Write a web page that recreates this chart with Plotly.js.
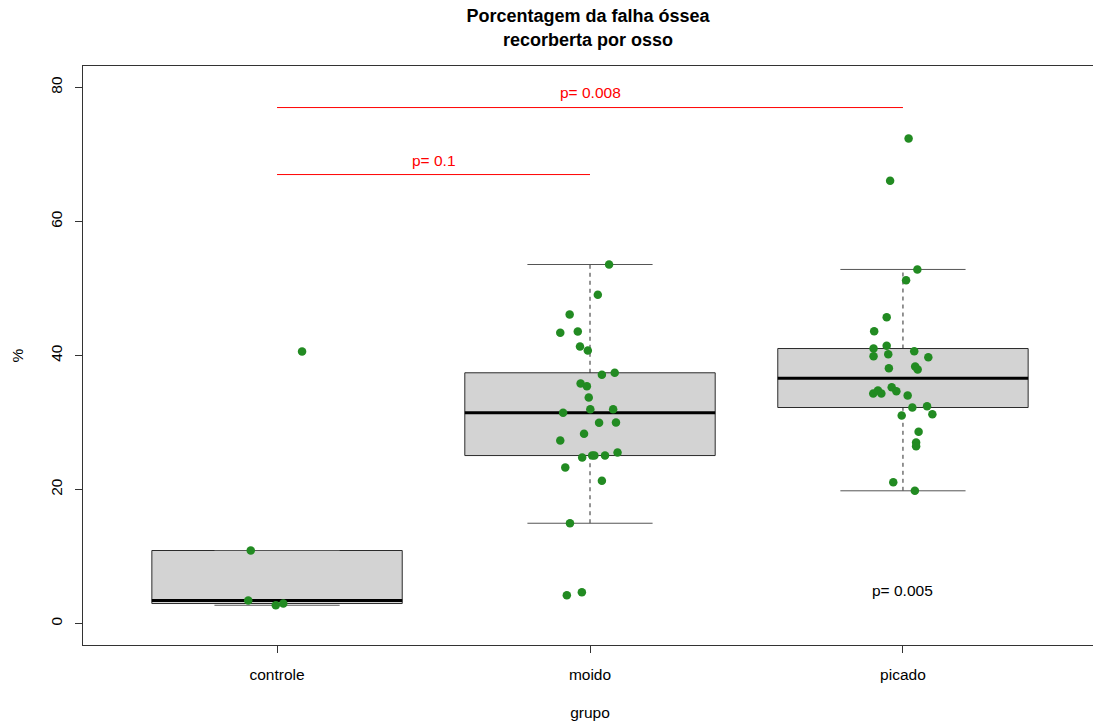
<!DOCTYPE html>
<html>
<head>
<meta charset="utf-8">
<script src="https://cdn.plot.ly/plotly-3.0.1.min.js"></script>
<style>
  html, body { margin: 0; padding: 0; background: #fff; overflow: hidden; }
  #chart { width: 1097px; height: 722px; }
</style>
</head>
<body>
<div id="chart"></div>
<script>
// Groups and measured percentages of bone defect covered by bone
const groups = ['controle', 'moido', 'picado'];

const controleVals = [10.90, 3.43, 2.73, 2.99, 40.60];
const moidoVals = [53.58, 49.06, 46.12, 43.39, 43.58, 41.34, 40.75, 37.12, 37.42, 35.82,
                   35.42, 33.73, 31.99, 31.99, 31.45, 29.96, 30.00, 28.31, 27.31, 24.78,
                   25.07, 25.07, 25.07, 25.52, 23.28, 21.31, 14.97, 4.22, 4.67];
const picadoVals = [72.39, 66.07, 52.84, 51.24, 45.72, 43.63, 41.04, 41.45, 40.64, 39.90,
                    40.19, 39.75, 38.10, 38.36, 37.91, 34.33, 34.78, 34.33, 35.27, 34.67,
                    34.03, 32.24, 32.43, 31.24, 31.04, 28.61, 27.01, 26.46, 21.09, 19.81];

// Horizontal jitter of each point (stripchart method = "jitter")
const controleJit = [-0.084, -0.092, -0.004, 0.020, 0.080];
const moidoJit = [0.061, 0.025, -0.065, -0.095, -0.039, -0.032, -0.007, 0.038, 0.079, -0.030,
                  -0.010, -0.004, 0.001, 0.074, -0.086, 0.029, 0.083, -0.019, -0.095, -0.025,
                  0.007, 0.014, 0.048, 0.088, -0.079, 0.038, -0.064, -0.074, -0.026];
const picadoJit = [0.018, -0.041, 0.046, 0.010, -0.052, -0.092, -0.094, -0.052, 0.036, -0.094,
                   -0.047, 0.081, -0.045, 0.039, 0.047, -0.095, -0.080, -0.069, -0.036, -0.021,
                   0.015, 0.030, 0.077, 0.094, -0.004, 0.050, 0.042, 0.042, -0.031, 0.038];

// Pairwise comparisons: [from group, to group, bar height, label, label height]
const compFrom = [1, 1];
const compTo = [2, 3];
const compY = [67, 77];
const compLabels = ['p= 0.1', 'p= 0.008'];
const compLabelY = [69.1, 79.2];

// Overall test label
const overallLabel = 'p= 0.005';
const overallX = 3;
const overallY = 5;

const FONT = 'Liberation Sans, Arial, Helvetica, sans-serif';

// Tukey five-number summary, as in R's fivenum()
function fivenum(v) {
  const s = v.slice().sort((a, b) => a - b);
  const n = s.length;
  const n4 = Math.floor((n + 3) / 2) / 2;
  const d = [1, n4, (n + 1) / 2, n + 1 - n4, n];
  return d.map(p => 0.5 * (s[Math.floor(p) - 1] + s[Math.ceil(p) - 1]));
}

// boxplot.stats(): hinges, median and whiskers at 1.5 IQR
function boxStats(v) {
  const f = fivenum(v);
  const iqr = f[3] - f[1];
  const inside = v.filter(x => x >= f[1] - 1.5 * iqr && x <= f[3] + 1.5 * iqr);
  return {
    lo: Math.min(...inside), q1: f[1], med: f[2], q3: f[3], hi: Math.max(...inside)
  };
}

const allVals = [controleVals, moidoVals, picadoVals];
const allJit = [controleJit, moidoJit, picadoJit];

const shapes = [];
allVals.forEach((vals, i) => {
  const c = i + 1;
  const st = boxStats(vals);
  const dark = '#2b2b2b';
  // box
  shapes.push({type: 'rect', xref: 'x', yref: 'y', layer: 'below',
    x0: c - 0.4, x1: c + 0.4, y0: st.q1, y1: st.q3,
    fillcolor: '#D3D3D3', line: {color: dark, width: 1}});
  // median
  shapes.push({type: 'line', xref: 'x', yref: 'y', layer: 'below',
    x0: c - 0.4, x1: c + 0.4, y0: st.med, y1: st.med,
    line: {color: '#000', width: 3}});
  // whiskers
  shapes.push({type: 'line', xref: 'x', yref: 'y', layer: 'below',
    x0: c, x1: c, y0: st.q3, y1: st.hi,
    line: {color: dark, width: 1, dash: '4px,4px'}});
  shapes.push({type: 'line', xref: 'x', yref: 'y', layer: 'below',
    x0: c, x1: c, y0: st.lo, y1: st.q1,
    line: {color: dark, width: 1, dash: '4px,4px'}});
  // staples
  [st.lo, st.hi].forEach(yv => {
    shapes.push({type: 'line', xref: 'x', yref: 'y', layer: 'below',
      x0: c - 0.2, x1: c + 0.2, y0: yv, y1: yv,
      line: {color: '#555', width: 1}});
  });
});

// comparison bars
compFrom.forEach((a, k) => {
  shapes.push({type: 'line', xref: 'x', yref: 'y', layer: 'above',
    x0: a, x1: compTo[k], y0: compY[k], y1: compY[k],
    line: {color: '#FF0000', width: 1}});
});

const annotations = compLabels.map((t, k) => ({
  x: (compFrom[k] + compTo[k]) / 2, y: compLabelY[k], xref: 'x', yref: 'y',
  text: t, showarrow: false, xanchor: 'center', yanchor: 'middle',
  font: {family: FONT, size: 15.5, color: '#FF0000'}
}));
annotations.push({
  x: overallX, y: overallY, xref: 'x', yref: 'y', text: overallLabel,
  showarrow: false, xanchor: 'center', yanchor: 'middle',
  font: {family: FONT, size: 15.5, color: '#000'}
});

const traces = allVals.map((vals, i) => ({
  type: 'scatter', mode: 'markers',
  x: vals.map((v, j) => i + 1 + allJit[i][j]),
  y: vals,
  marker: {color: '#228B22', size: 8.5, line: {width: 0}},
  hoverinfo: 'y', showlegend: false
}));

const axisCommon = {
  showgrid: false, zeroline: false,
  showline: true, mirror: true, linecolor: '#333', linewidth: 1,
  ticks: 'outside', ticklen: 7, tickwidth: 1, tickcolor: '#333',
  tickfont: {family: FONT, size: 15.5, color: '#000'}
};

const layout = {
  width: 1097, height: 722,
  margin: {l: 83, r: 0, t: 66, b: 77},
  paper_bgcolor: '#fff', plot_bgcolor: '#fff',
  title: {
    text: 'Porcentagem da falha óssea<br>recorberta por osso',
    font: {family: FONT, size: 18, color: '#000', weight: 'bold'},
    xref: 'container', x: 0.536, xanchor: 'center',
    yref: 'container', y: 0.969, yanchor: 'top'
  },
  xaxis: Object.assign({}, axisCommon, {
    range: [0.38, 3.62],
    tickvals: [1, 2, 3], ticktext: groups,
    ticklabelstandoff: 8,
    title: {text: 'grupo', font: {family: FONT, size: 15.5, color: '#000'}, standoff: 25}
  }),
  yaxis: Object.assign({}, axisCommon, {
    range: [-3.2, 83.2],
    tickvals: [0, 20, 40, 60, 80],
    tickangle: -90,
    ticklabelstandoff: 7,
    title: {text: '%', font: {family: FONT, size: 15.5, color: '#000'}, standoff: 20}
  }),
  shapes: shapes,
  annotations: annotations,
  showlegend: false
};

Plotly.newPlot('chart', traces, layout, {displayModeBar: false, staticPlot: true});
</script>
</body>
</html>
